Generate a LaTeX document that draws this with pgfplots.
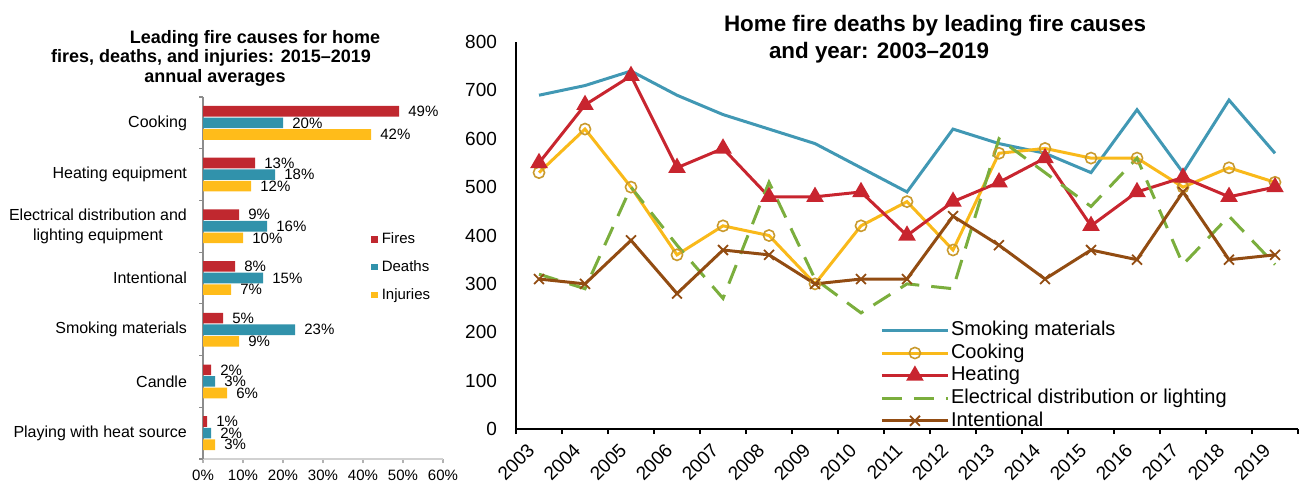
\documentclass[border=0pt]{standalone}
\usepackage{pgfplots}
\pgfplotsset{compat=1.18}
\usepackage{fontspec}
\setmainfont{Liberation Sans}

\definecolor{cFire}{HTML}{C0282F}
\definecolor{cDeath}{HTML}{3192AB}
\definecolor{cInjury}{HTML}{FFBC1A}
\definecolor{cSmoke}{HTML}{4198B4}
\definecolor{cCook}{HTML}{F9B91A}
\definecolor{cCookEdge}{HTML}{C99A2E}
\definecolor{cHeat}{HTML}{C8252F}
\definecolor{cElec}{HTML}{7BAE3D}
\definecolor{cIntent}{HTML}{924C12}

\pgfplotsset{
  sqleg/.style={legend image code/.code={\fill[##1,draw=none] (0pt,-1.6pt) rectangle (3.2pt,1.6pt);}},
  /pgf/number format/assume math mode=true,
}

\begin{document}
\begin{tikzpicture}
\path[use as bounding box] (0,0) rectangle (652pt,-243pt);

% left: bar chart, 2015-2019 averages
\begin{axis}[
  at={(101.5pt,-229.5pt)}, anchor=south west,
  scale only axis, width=120pt, height=181pt,
  xmin=0, xmax=60, ymin=-0.5, ymax=6.5,
  axis lines=left,
  axis line style={-},
  x axis line style={draw=black!18, line width=0.6pt},
  y axis line style={draw=black!45, line width=0.6pt},
  tick align=outside, major tick length=2pt,
  xtick={0,10,...,60},
  xticklabel={\pgfmathprintnumber{\tick}\%},
  xtick style={draw=black!30, line width=0.6pt},
  ytick style={draw=black!45, line width=0.6pt},
  ytick={-0.5,0.5,...,6.5},
  y tick label as interval,
  yticklabels={Playing with heat source, Candle, Smoking materials, Intentional,
    {Electrical distribution and\\lighting equipment}, Heating equipment, Cooking},
  xticklabel style={font=\fontsize{7.5}{9}\selectfont},
  yticklabel style={font=\fontsize{8}{9.6}\selectfont, align=center, xshift=-2.5pt},
  nodes near coords={\pgfmathprintnumber{\pgfplotspointmeta}\%},
  nodes near coords style={anchor=west, font=\fontsize{7.5}{8}\selectfont, xshift=4pt, inner sep=0.5pt},
  legend style={at={(rel axis cs:0.70,0.638)}, anchor=north west, draw=none, fill=none,
    font=\fontsize{7.5}{9}\selectfont, row sep=3pt, inner sep=0pt},
  legend cell align=left,
  clip=false,
]
\addplot[xbar, bar width=5.3pt, bar shift=5.8pt, fill=cFire, draw=none, sqleg, point meta=x,
  nodes near coords style={yshift=5.8pt}]
  coordinates {(49,6) (13,5) (9,4) (8,3) (5,2) (2,1) (1,0)};
\addplot[xbar, bar width=5.3pt, bar shift=0pt, fill=cDeath, draw=none, sqleg, point meta=x]
  coordinates {(20,6) (18,5) (16,4) (15,3) (23,2) (3,1) (2,0)};
\addplot[xbar, bar width=5.3pt, bar shift=-5.8pt, fill=cInjury, draw=none, sqleg, point meta=x,
  nodes near coords style={yshift=-5.8pt}]
  coordinates {(42,6) (12,5) (10,4) (7,3) (9,2) (6,1) (3,0)};
\legend{Fires, Deaths, Injuries}
\end{axis}

% right: deaths by year
\begin{axis}[
  at={(258pt,-214.5pt)}, anchor=south west,
  scale only axis, width=391pt, height=193.5pt,
  xmin=-0.5, xmax=16.5, ymin=0, ymax=800,
  axis lines=left,
  axis line style={-, line width=0.9pt, black},
  tick align=outside, major tick length=2.5pt,
  xtick={-0.5,0.5,...,16.5},
  x tick label as interval,
  xticklabels={2003,2004,2005,2006,2007,2008,2009,2010,2011,2012,2013,2014,2015,2016,2017,2018,2019},
  xtick style={line width=0.9pt, black},
  ytick={0,100,...,800},
  ytick style={draw=none},
  tick label style={font=\fontsize{9.5}{11}\selectfont},
  xticklabel style={xshift=-1.5pt, yshift=-4pt, rotate=45, anchor=east},
  yticklabel style={xshift=-3.5pt},
  legend style={at={(rel axis cs:0.4655,0.285)}, anchor=north west, draw=none, fill=none,
    font=\fontsize{10}{12}\selectfont, inner sep=0pt, row sep=0pt,
    nodes={text height=7.5pt, text depth=2.2pt, inner sep=0.8pt}},
  legend cell align=left,
  legend image code/.code={\draw[mark repeat=2,mark phase=2,#1] plot coordinates {(0pt,0pt) (16.5pt,0pt) (33pt,0pt)};},
  every axis plot/.append style={line width=1.5pt},
]
\addplot[cSmoke, mark=none] coordinates {
  (0,690) (1,710) (2,740) (3,690) (4,650) (5,620) (6,590) (7,540) (8,490)
  (9,620) (10,590) (11,570) (12,530) (13,660) (14,530) (15,680) (16,570)};
\addplot[cCook, mark=o, mark size=2.8pt, mark options={draw=cCookEdge, line width=0.8pt}] coordinates {
  (0,530) (1,620) (2,500) (3,360) (4,420) (5,400) (6,300) (7,420) (8,470)
  (9,370) (10,570) (11,580) (12,560) (13,560) (14,500) (15,540) (16,510)};
\addplot[cHeat, mark=triangle*, mark size=3.6pt] coordinates {
  (0,550) (1,670) (2,730) (3,540) (4,580) (5,480) (6,480) (7,490) (8,400)
  (9,470) (10,510) (11,560) (12,420) (13,490) (14,520) (15,480) (16,500)};
\addplot[cElec, mark=none, dash pattern=on 10pt off 6pt] coordinates {
  (0,320) (1,290) (2,500) (3,380) (4,270) (5,510) (6,310) (7,240) (8,300)
  (9,290) (10,600) (11,530) (12,460) (13,560) (14,340) (15,440) (16,340)};
\addplot[cIntent, mark=x, mark size=3.5pt, mark options={line width=0.9pt}] coordinates {
  (0,310) (1,300) (2,390) (3,280) (4,370) (5,360) (6,300) (7,310) (8,310)
  (9,440) (10,380) (11,310) (12,370) (13,350) (14,490) (15,350) (16,360)};
\legend{Smoking materials, Cooking, Heating, Electrical distribution or lighting, Intentional}
\end{axis}

% titles
\node[anchor=base, font=\fontsize{9}{10}\selectfont\bfseries] at (127.5pt,-22pt) {Leading fire causes for home};
\node[anchor=base, font=\fontsize{9}{10}\selectfont\bfseries] at (105.5pt,-31.5pt) {fires, deaths, and injuries: 2015–2019};
\node[anchor=base, font=\fontsize{9}{10}\selectfont\bfseries] at (107.5pt,-41.5pt) {annual averages};
\node[anchor=base, font=\fontsize{11.2}{12}\selectfont\bfseries] at (467.5pt,-16pt) {Home fire deaths by leading fire causes};
\node[anchor=base, font=\fontsize{11.2}{12}\selectfont\bfseries] at (439.5pt,-29.5pt) {and year: 2003–2019};
\end{tikzpicture}
\end{document}
